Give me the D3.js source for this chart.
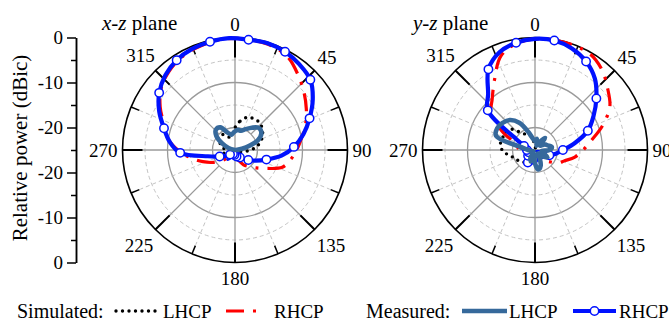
<!DOCTYPE html>
<html>
<head>
<meta charset="utf-8">
<script src="https://cdn.jsdelivr.net/npm/d3@7"></script>
<style>
  body { margin: 0; background: #fff; }
  text { font-family: "Liberation Serif", "Times New Roman", serif; fill: #000; }
</style>
</head>
<body>
<svg id="chart" width="669" height="324"></svg>
<script>
// angle grid (deg, clockwise from top)
const simAngles = d3.range(0, 360, 10);
const xzMeasAngles = simAngles.map((a) => a + 7);
const yzMeasAngles = simAngles;

const angleTicks = [0, 45, 90, 135, 180, 225, 270, 315];
const solidRings = [-10, -20];
const dashedRings = [-5, -15];
const axisMajor = [25, 15, 5, -5, -15, -25];
const axisMinor = [20, 10, 0, -10, -20];

// x-z plane (dB)
const xzSimLHCP = [-20, -18.5, -17.3, -16.9, -16.8, -17.2, -17.9, -18.8, -20, -21.5, -23, -24,
  -24.5, -25, -25, -25, -25, -25, -25, -25, -25, -24.5, -24, -23.5,
  -23, -22.5, -22.5, -23, -22.3, -21.8, -20.5, -20.3, -20.5, -21.5, -22, -21.5];
const xzSimRHCP = [-0.2, -0.3, -0.5, -1.3, -3.2, -5, -6.7, -8.3, -10, -11.3, -12.5, -13.8,
  -16.8, -18.8, -20.2, -21.2, -22.5, -23, -23.5, -24, -24, -23.8, -23, -21.5,
  -19.5, -17.4, -15, -12.3, -9.8, -8.2, -5.8, -3.6, -2.2, -1.2, -0.7, -0.3];
const xzMeasLHCP = [-20.5, -20.5, -19.8, -18.8, -17.8, -18, -19.5, -22.5, -24.5, -25, -25, -25,
  -25, -25, -25, -25, -25, -25, -25, -25, -25, -25, -25, -25,
  -25, -25, -25, -25, -23.5, -21.8, -19.8, -18.8, -19, -20.8, -21.5, -21];
const xzMeasRHCP = [-0.3, -0.2, -0.5, -1.2, -2.1, -4.4, -7, -9.4, -11.9, -14.6, -17.7, -19.8,
  -21.3, -22.4, -23, -23.3, -23.5, -23.7, -23.9, -24.1, -24, -22.5, -23.5, -22.6,
  -21.3, -18.8, -12.8, -10.4, -8.5, -6.1, -3.9, -2.3, -1.2, -0.6, -0.3, -0.1];

// y-z plane (dB)
const yzSimLHCP = [-24, -24.5, -25, -25, -25, -25, -25, -25, -25, -25, -25, -25,
  -25, -25, -25, -25, -25, -25, -25, -24.5, -24, -23, -21.5, -21,
  -20.5, -20, -18.9, -17.7, -17.2, -17.3, -17.4, -17.8, -19.8, -21, -21.5, -23];
const yzSimRHCP = [-0.3, -0.2, -0.2, -0.4, -1.8, -3.9, -5.8, -9, -12.2, -14.3, -16, -18,
  -19.2, -21, -22, -23, -23.3, -23.5, -23.5, -23.3, -23, -22.8, -22.6, -22.5,
  -22.5, -22.3, -22, -21.5, -21, -20, -16.5, -12.3, -10.2, -7, -2.8, -1];
const yzMeasLHCP = [-23, -22.5, -24, -23, -21.5, -23.5, -22.5, -22, -21.2, -21.8, -23.5, -23,
  -21.8, -22.8, -24, -23, -21.3, -20.6, -22, -24, -22.3, -23, -24.5, -24,
  -24.5, -24, -24, -23.5, -22.3, -15.8, -15.3, -15.6, -16.3, -18, -20.8, -22.5];
const yzMeasRHCP = [-0.3, -0.3, -1, -2.3, -4.3, -7.2, -10, -12.5, -16, -18.8, -20.3, -21.6,
  -22.6, -23.4, -23.7, -23.8, -23.8, -23.7, -23.4, -22.8, -22.2, -21.8, -22.4, -23,
  -23.4, -23.5, -23.4, -23.2, -22.8, -22.4, -20.2, -11.3, -8.8, -4.3, -1.9, -0.8];

const legendGroups = ["Simulated:", "Measured:"];
const legendNames = ["LHCP", "RHCP"];

// layout
const R = 112.5;
const font = 19;
const colors = { red: "#ff0000", black: "#000", steel: "#36699b", blue: "#0011ff" };

const svg = d3.select("#chart");
const rScale = d3.scaleLinear().domain([-25, 0]).range([0, R]).clamp(true);
const toRad = (a) => (a * Math.PI) / 180;

const radialLine = d3.lineRadial()
  .angle((d) => toRad(d[0]))
  .radius((d) => rScale(d[1]))
  .curve(d3.curveCatmullRomClosed.alpha(0.5));

const styleSimL = (p) => p.attr("stroke", colors.black).attr("stroke-width", 3.4)
  .attr("stroke-dasharray", "0,6.5").attr("stroke-linecap", "round");
const styleSimR = (p) => p.attr("stroke", colors.red).attr("stroke-width", 3.2)
  .attr("stroke-dasharray", "18,9,3,9");
const styleMeasL = (p) => p.attr("stroke", colors.steel).attr("stroke-width", 4.6)
  .attr("stroke-linejoin", "round");
const styleMeasR = (p) => p.attr("stroke", colors.blue).attr("stroke-width", 4.2)
  .attr("stroke-linejoin", "round");
const styleMarker = (c) => c.attr("r", 4.2).attr("fill", "#fff")
  .attr("stroke", colors.blue).attr("stroke-width", 1.5);

const panels = [
  { cx: 235, cy: 150, title: "x-z", tx: 102, measAngles: xzMeasAngles, markerStart: 0,
    simL: xzSimLHCP, simR: xzSimRHCP, measL: xzMeasLHCP, measR: xzMeasRHCP },
  { cx: 535, cy: 150, title: "y-z", tx: 413, measAngles: yzMeasAngles, markerStart: 1,
    simL: yzSimLHCP, simR: yzSimRHCP, measL: yzMeasLHCP, measR: yzMeasRHCP },
];

const zip = (angles, vals) => angles.map((a, i) => [a, vals[i]]);

panels.forEach((p) => {
  const g = svg.append("g").attr("transform", `translate(${p.cx},${p.cy})`);

  // grid rings
  g.selectAll(".dring").data(dashedRings).join("circle")
    .attr("r", (d) => rScale(d)).attr("fill", "none")
    .attr("stroke", "#c4c4c4").attr("stroke-width", 1).attr("stroke-dasharray", "4,3");
  g.selectAll(".sring").data(solidRings).join("circle")
    .attr("r", (d) => rScale(d)).attr("fill", "none")
    .attr("stroke", "#9a9a9a").attr("stroke-width", 1.3);

  // spokes
  const minorAngles = angleTicks.map((a) => a + 22.5);
  const spoke = (a, r0, r1) => [Math.sin(toRad(a)) * r0, -Math.cos(toRad(a)) * r0,
    Math.sin(toRad(a)) * r1, -Math.cos(toRad(a)) * r1];
  const setLine = function (r0, r1) {
    return function (a) {
      const [x1, y1, x2, y2] = spoke(a, typeof r0 === "function" ? r0(a) : r0, r1);
      d3.select(this).attr("x1", x1).attr("y1", y1).attr("x2", x2).attr("y2", y2);
    };
  };
  g.selectAll(".dspoke").data(minorAngles).join("line")
    .each(setLine(rScale(-20), R - 10))
    .attr("stroke", "#c4c4c4").attr("stroke-width", 1).attr("stroke-dasharray", "4,3");
  g.selectAll(".sspoke").data(angleTicks).join("line")
    .each(setLine((a) => (a % 90 === 0 ? 0 : rScale(-20)), R))
    .attr("stroke", "#9a9a9a").attr("stroke-width", 1.3);

  // outer frame + ticks
  g.append("circle").attr("r", R).attr("fill", "none")
    .attr("stroke", "#000").attr("stroke-width", 1.6);
  g.selectAll(".majtick").data(angleTicks).join("line")
    .each(setLine(R - 20, R))
    .attr("stroke", "#000").attr("stroke-width", 2);
  g.selectAll(".mintick").data(minorAngles).join("line")
    .each(setLine(R - 9, R))
    .attr("stroke", "#000").attr("stroke-width", 1.5);

  // angle labels
  angleTicks.forEach((a) => {
    const t = g.append("text").text(a).attr("font-size", font)
      .attr("text-anchor", "middle").attr("dominant-baseline", "central");
    const hw = t.node().getComputedTextLength() / 2;
    const s = Math.sin(toRad(a));
    const c = -Math.cos(toRad(a));
    const gap = 5 + 2 * Math.abs(c) + 3 * Math.max(0, c);
    const d = R + gap + hw * Math.abs(s) + 6.4 * Math.abs(c);
    t.attr("x", d * s).attr("y", d * c);
  });

  // series
  g.append("path").datum(zip(simAngles, p.simR)).attr("d", radialLine)
    .attr("fill", "none").call(styleSimR);
  g.append("path").datum(zip(simAngles, p.simL)).attr("d", radialLine)
    .attr("fill", "none").call(styleSimL);
  g.append("path").datum(zip(p.measAngles, p.measR)).attr("d", radialLine)
    .attr("fill", "none").call(styleMeasR);

  const marks = zip(p.measAngles, p.measR).filter((d, i) => i % 2 === p.markerStart);
  g.selectAll(".mk").data(marks).join("circle")
    .attr("cx", (d) => Math.sin(toRad(d[0])) * rScale(d[1]))
    .attr("cy", (d) => -Math.cos(toRad(d[0])) * rScale(d[1]))
    .call(styleMarker);

  g.append("path").datum(zip(p.measAngles, p.measL)).attr("d", radialLine)
    .attr("fill", "none").call(styleMeasL);

  // title
  const tt = svg.append("text").attr("x", p.tx).attr("y", 30).attr("font-size", 21);
  tt.append("tspan").attr("font-style", "italic").text(p.title);
  tt.append("tspan").text(" plane");
});

// left radial axis
const yAxisScale = d3.scaleLinear().domain([-25, 25]).range([150 + R, 150 - R]);
const axisX = 76;
svg.append("g").attr("transform", `translate(${axisX},0)`)
  .call(d3.axisLeft(yAxisScale).tickValues(axisMinor).tickSize(5).tickSizeOuter(0).tickFormat(""))
  .call((ax) => ax.selectAll("line,path").attr("stroke", "#000").attr("stroke-width", 1.5));
svg.append("g").attr("transform", `translate(${axisX},0)`)
  .call(d3.axisLeft(yAxisScale).tickValues(axisMajor).tickSize(9).tickSizeOuter(0)
    .tickFormat((v) => String(Math.abs(v) - 25)))
  .call((ax) => ax.select(".domain").attr("stroke", "#000").attr("stroke-width", 1.5))
  .call((ax) => ax.selectAll(".tick line").attr("stroke", "#000").attr("stroke-width", 1.5))
  .call((ax) => ax.selectAll(".tick text").attr("font-size", font)
    .attr("font-family", '"Liberation Serif","Times New Roman",serif').attr("fill", "#000").attr("x", -13));

svg.append("text").attr("transform", "translate(27,148) rotate(-90)")
  .attr("text-anchor", "middle").attr("font-size", 21).text("Relative power (dBic)");

// legend
const legY = 311;
const legend = svg.append("g");
const groupX = [17, 366];
const sampleX = [[116, 160, 226, 260], [462, 507, 573, 616]];
const nameX = [[163, 274], [509, 619]];
const sampleStyles = [[styleSimL, styleSimR], [styleMeasL, styleMeasR]];
legendGroups.forEach((grp, gi) => {
  legend.append("text").attr("x", groupX[gi]).attr("y", legY + 6.5)
    .attr("font-size", 20).text(grp);
  legendNames.forEach((nm, ni) => {
    const x0 = sampleX[gi][ni * 2], x1 = sampleX[gi][ni * 2 + 1];
    legend.append("path").attr("d", `M${x0},${legY}H${x1}`)
      .attr("fill", "none").call(sampleStyles[gi][ni]);
    if (gi === 1 && ni === 1) {
      legend.append("circle").attr("cx", (x0 + x1) / 2).attr("cy", legY).call(styleMarker);
    }
    legend.append("text").attr("x", nameX[gi][ni]).attr("y", legY + 6.5)
      .attr("font-size", font).text(nm);
  });
});
</script>
</body>
</html>
